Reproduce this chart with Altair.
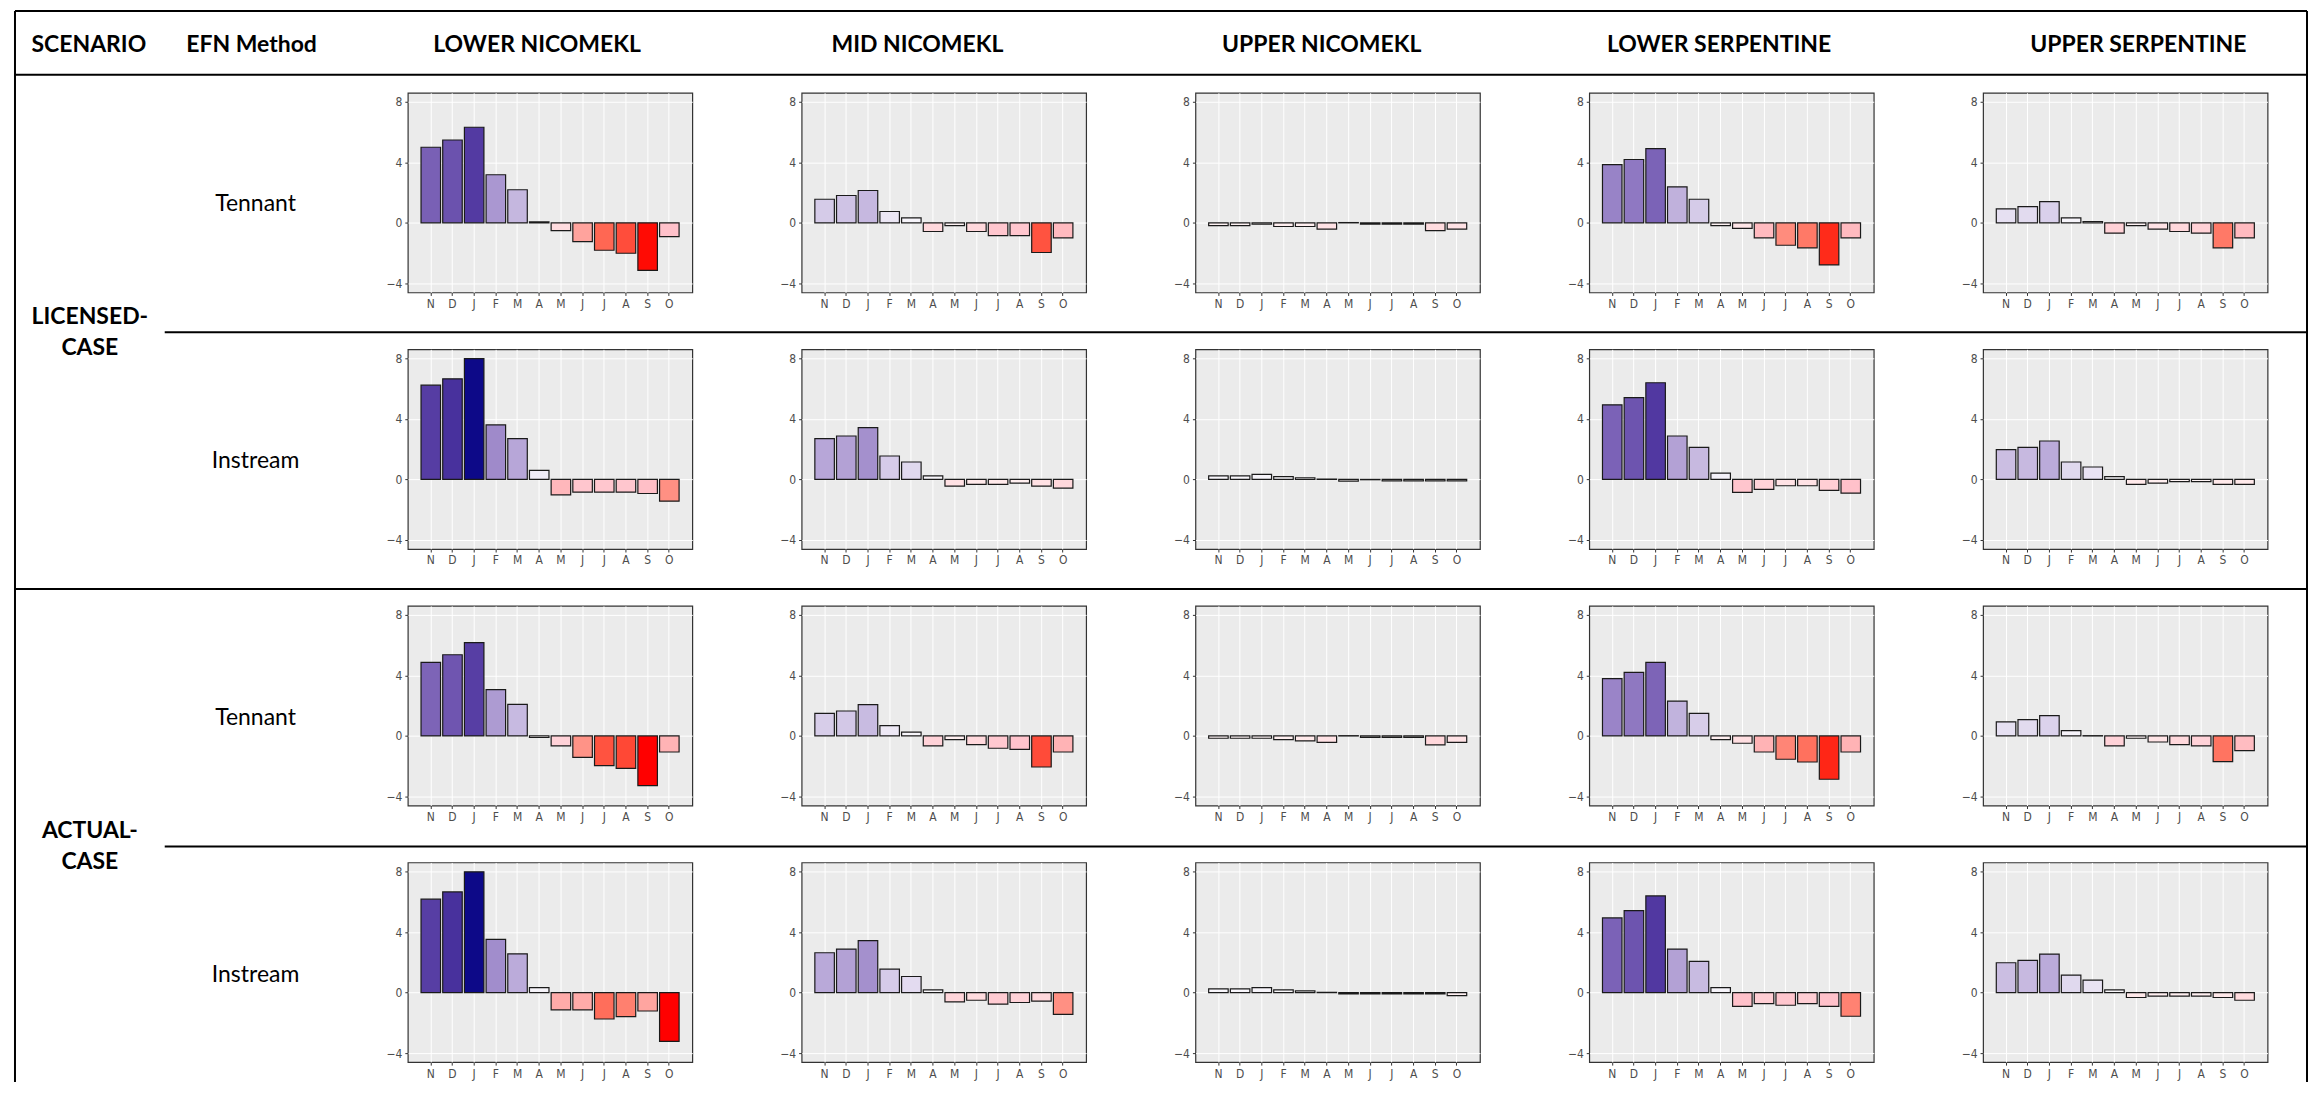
import altair as alt
import pandas as pd

# ---------------- data ----------------
MONTHS = ["Nov", "Dec", "Jan", "Feb", "Mar", "Apr", "May", "Jun", "Jul", "Aug", "Sep", "Oct"]
REGIONS = ["LOWER NICOMEKL", "MID NICOMEKL", "UPPER NICOMEKL", "LOWER SERPENTINE", "UPPER SERPENTINE"]
SCENARIO_LABELS = [["LICENSED-", "CASE"], ["ACTUAL-", "CASE"]]
METHODS = ["Tennant", "Instream"]
Y_TICKS = [-4, 0, 4, 8]

# LICENSED-CASE, Tennant
lic_ten_lower_nic = [5.0, 5.48, 6.32, 3.18, 2.19, 0.07, -0.51, -1.24, -1.81, -2.01, -3.14, -0.91]
lic_ten_mid_nic = [1.56, 1.81, 2.14, 0.75, 0.33, -0.57, -0.18, -0.57, -0.84, -0.84, -1.96, -0.99]
lic_ten_upper_nic = [-0.18, -0.18, -0.09, -0.24, -0.24, -0.42, 0.02, -0.08, -0.08, -0.08, -0.51, -0.42]
lic_ten_lower_serp = [3.85, 4.19, 4.91, 2.38, 1.56, -0.18, -0.37, -0.99, -1.48, -1.65, -2.78, -0.99]
lic_ten_upper_serp = [0.93, 1.08, 1.41, 0.33, 0.09, -0.68, -0.18, -0.42, -0.57, -0.68, -1.65, -0.99]
# LICENSED-CASE, Instream
lic_ins_lower_nic = [6.23, 6.65, 7.98, 3.60, 2.70, 0.60, -1.02, -0.84, -0.84, -0.84, -0.93, -1.44]
lic_ins_mid_nic = [2.70, 2.87, 3.43, 1.55, 1.15, 0.24, -0.44, -0.33, -0.33, -0.24, -0.44, -0.57]
lic_ins_upper_nic = [0.24, 0.24, 0.33, 0.18, 0.11, 0.02, -0.11, -0.02, -0.09, -0.09, -0.09, -0.09]
lic_ins_lower_serp = [4.93, 5.41, 6.39, 2.87, 2.12, 0.42, -0.86, -0.66, -0.42, -0.42, -0.73, -0.91]
lic_ins_upper_serp = [1.97, 2.12, 2.54, 1.15, 0.82, 0.18, -0.33, -0.24, -0.15, -0.15, -0.33, -0.33]
# ACTUAL-CASE, Tennant
act_ten_lower_nic = [4.87, 5.37, 6.17, 3.06, 2.09, -0.10, -0.66, -1.41, -1.96, -2.14, -3.28, -1.06]
act_ten_mid_nic = [1.50, 1.65, 2.07, 0.68, 0.26, -0.66, -0.24, -0.57, -0.81, -0.88, -2.05, -1.06]
act_ten_upper_nic = [-0.15, -0.15, -0.15, -0.24, -0.33, -0.42, 0.02, -0.09, -0.09, -0.09, -0.59, -0.42]
act_ten_lower_serp = [3.79, 4.21, 4.87, 2.31, 1.50, -0.24, -0.48, -1.06, -1.54, -1.72, -2.86, -1.06]
act_ten_upper_serp = [0.93, 1.08, 1.34, 0.35, 0.02, -0.66, -0.15, -0.40, -0.57, -0.66, -1.70, -0.97]
# ACTUAL-CASE, Instream
act_ins_lower_nic = [6.17, 6.65, 7.98, 3.51, 2.56, 0.33, -1.15, -1.15, -1.75, -1.59, -1.22, -3.23]
act_ins_mid_nic = [2.63, 2.87, 3.43, 1.55, 1.06, 0.18, -0.62, -0.51, -0.77, -0.66, -0.57, -1.44]
act_ins_upper_nic = [0.24, 0.24, 0.33, 0.18, 0.11, 0.02, -0.09, -0.09, -0.09, -0.09, -0.09, -0.20]
act_ins_lower_serp = [4.93, 5.41, 6.39, 2.87, 2.06, 0.33, -0.91, -0.73, -0.84, -0.73, -0.91, -1.57]
act_ins_upper_serp = [1.97, 2.12, 2.54, 1.15, 0.82, 0.18, -0.33, -0.24, -0.24, -0.24, -0.33, -0.51]

ROWS = [
    [lic_ten_lower_nic, lic_ten_mid_nic, lic_ten_upper_nic, lic_ten_lower_serp, lic_ten_upper_serp],
    [lic_ins_lower_nic, lic_ins_mid_nic, lic_ins_upper_nic, lic_ins_lower_serp, lic_ins_upper_serp],
    [act_ten_lower_nic, act_ten_mid_nic, act_ten_upper_nic, act_ten_lower_serp, act_ten_upper_serp],
    [act_ins_lower_nic, act_ins_mid_nic, act_ins_upper_nic, act_ins_lower_serp, act_ins_upper_serp],
]

# ---------------- layout / style ----------------
PANEL_W, PANEL_H = 285, 200
SPACER_W = 286.5
COL_GAP, ROW_GAP = 109.5, 57
X0, Y0 = 8, 91          # page position of the grid origin (row 1 top)
HEAD_FONT = "Lato"
TICK_FONT = "'Liberation Sans Narrow', 'DejaVu Sans Condensed', 'Liberation Sans', sans-serif"

color_scale = alt.Scale(
    domain=[-3.2, -2.0, -1.4, -0.9, -0.5, 0, 8],
    range=["#ff0000", "#ff4d3b", "#ff9488", "#ffc2cb", "#ffdde0", "#ffffff", "#0b0888"],
    interpolate="lab",
    clamp=True,
)

ONE = pd.DataFrame({"k": [0]})


def px(x):
    return x - X0


def py(y):
    return y - Y0


def hrule(x1, x2, y):
    return alt.Chart(ONE).mark_rule(color="black", strokeWidth=2).encode(
        x=alt.value(px(x1)), x2=alt.value(px(x2)), y=alt.value(py(y)))


def vrule(x, y1, y2):
    return alt.Chart(ONE).mark_rule(color="black", strokeWidth=2).encode(
        x=alt.value(px(x)), y=alt.value(py(y1)), y2=alt.value(py(y2)))


def label(text, x, y, bold=True, size=23):
    return alt.Chart(ONE).mark_text(
        text=text, font=HEAD_FONT, fontSize=size, fontWeight="bold" if bold else "normal",
        align="center", baseline="middle", color="black",
    ).encode(x=alt.value(px(x)), y=alt.value(py(y)))


LEFT, RIGHT, TOP, BOTTOM = 11, 2307, 9, 1082
frame_layers = [
    hrule(LEFT, RIGHT, TOP),
    hrule(LEFT, RIGHT, 73),
    hrule(161, RIGHT, 331),
    hrule(LEFT, RIGHT, 588),
    hrule(161, RIGHT, 846),
    vrule(LEFT, TOP, BOTTOM),
    vrule(RIGHT, TOP, BOTTOM),
    label("SCENARIO", 85, 43),
    label("EFN Method", 248, 43),
]
HEADER_X = [534, 915, 1320, 1718, 2138]
for name, hx in zip(REGIONS, HEADER_X):
    frame_layers.append(label(name, hx, 43))
METHOD_Y = [202, 460, 717, 975]
for i, my in enumerate(METHOD_Y):
    frame_layers.append(label(METHODS[i % 2], 252, my, bold=False))
for (l1, l2), cy in zip(SCENARIO_LABELS, [331, 846]):
    frame_layers.append(label(l1, 86, cy - 15))
    frame_layers.append(label(l2, 86, cy + 16))

frame = alt.layer(*frame_layers).properties(width=SPACER_W, height=PANEL_H)

spacer = alt.Chart(ONE).mark_point(opacity=0).encode(
    x=alt.value(0), y=alt.value(0)).properties(width=SPACER_W, height=PANEL_H)

x_axis = alt.Axis(
    title=None, labelExpr="substring(datum.label, 0, 1)", labelAngle=0,
    grid=True, gridColor="#ffffff", gridWidth=1, domain=False,
    tickColor="#333333", tickSize=3, labelColor="#4d4d4d",
    labelFont=TICK_FONT, labelFontSize=12, labelPadding=3,
)
y_axis = alt.Axis(
    title=None, values=Y_TICKS, grid=True, gridColor="#ffffff", gridWidth=1, domain=False,
    tickColor="#333333", tickSize=3, labelColor="#4d4d4d",
    labelFont=TICK_FONT, labelFontSize=12, labelPadding=3,
)


def panel(values):
    df = pd.DataFrame({"month": MONTHS, "value": values})
    return alt.Chart(df).mark_bar(stroke="#1a1a1a", strokeWidth=1.2).encode(
        x=alt.X("month:N", sort=MONTHS,
                scale=alt.Scale(domain=MONTHS, paddingInner=0.1, paddingOuter=0.61),
                axis=x_axis),
        y=alt.Y("value:Q", scale=alt.Scale(domain=[-4.6, 8.6], nice=False), axis=y_axis),
        color=alt.Color("value:Q", scale=color_scale, legend=None),
    ).properties(
        width=PANEL_W, height=PANEL_H,
        view=alt.ViewBackground(fill="#ebebeb", stroke="#333333", strokeWidth=1.2),
    )


cells = []
for r, row in enumerate(ROWS):
    cells.append(frame if r == 0 else spacer)
    for vals in row:
        cells.append(panel(vals))

chart = alt.concat(
    *cells, columns=6, spacing={"row": ROW_GAP, "column": COL_GAP},
    bounds="flush", align="each",
).properties(padding=0, background="white").configure_view(stroke="transparent")

chart.save("out.html", embed_options={"renderer": "svg", "actions": False})
